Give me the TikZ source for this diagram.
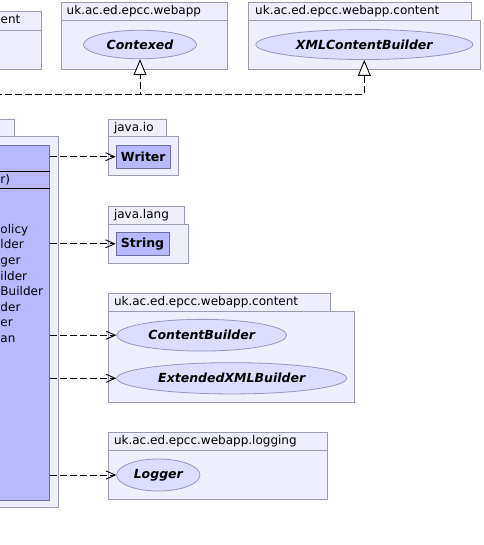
\documentclass[tikz,border=0pt]{standalone}
\usepackage{fontspec}
\setmainfont{DejaVu Sans}[ItalicFont={DejaVu Sans Oblique}, BoldFont={DejaVu Sans Bold}, BoldItalicFont={DejaVu Sans Bold Oblique}]
\usetikzlibrary{arrows.meta,shapes.geometric,positioning}
\definecolor{pkgfill}{RGB}{238,238,252}
\definecolor{pkgline}{RGB}{155,155,175}
\definecolor{clsfill}{RGB}{184,184,255}
\definecolor{clsline}{RGB}{110,110,165}
\definecolor{ifill}{RGB}{221,221,255}
\definecolor{iline}{RGB}{150,150,190}
\begin{document}
\begin{tikzpicture}
[x=1pt, y=-1pt,
% STYLES
% packages: body and name tab
pkg/.style={draw=pkgline, fill=pkgfill, line width=0.8pt},
pkgname/.style={anchor=west, inner sep=0pt, font=\fontsize{12}{14}\selectfont},
% classes and interfaces
cls/.style={rectangle, draw=clsline, fill=clsfill, line width=0.8pt, inner sep=0pt, font=\bfseries\fontsize{12.5}{14}\selectfont},
iface/.style={ellipse, draw=iline, fill=ifill, line width=0.8pt, inner sep=0pt, font=\bfseries\itshape\fontsize{12.5}{14}\selectfont},
% members of the class, at the left edge
fld/.style={anchor=west, inner sep=0pt, text height=8.7pt, text depth=2.3pt, font=\fontsize{12}{14}\selectfont},
% connectors
dep/.style={line width=0.9pt, dash pattern=on 7pt off 3pt, -{Straight Barb[length=9pt, width=8pt]}},
real/.style={line width=0.9pt, dash pattern=on 7pt off 3pt, -{Triangle[open, length=16pt, width=13pt, fill=white]}}]

\useasboundingbox (0,0) rectangle (483,545);
\clip (0,0) rectangle (483,545);

% Top packages
\draw[pkg] (-20,11) rectangle (41,69);
\draw[pkg] (-20,11) rectangle (41,30);
\node[fld] (entname) at (0.5,20.5) {ent};

\draw[pkg] (61,20) rectangle (227.5,69);
\draw[pkg] (61,2) rectangle (227.5,20);
\node[pkgname] (webappname) at (66.5,11) {uk.ac.ed.epcc.webapp};
\node[iface, minimum width=113pt, minimum height=28.5pt] (contexed) at (140,44.5) {Contexed};

\draw[pkg] (248.5,20) rectangle (480.5,69);
\draw[pkg] (248.5,2.5) rectangle (471,20);
\node[pkgname] (topcontentname) at (255,11.2) {uk.ac.ed.epcc.webapp.content};
\node[iface, minimum width=217pt, minimum height=30pt] (xmlbuilder) at (364.3,44.5) {XMLContentBuilder};

% Main class (cut at the left)
\draw[pkg] (-20,119.3) rectangle (14,136.5);
\draw[pkg] (-20,136.5) rectangle (58.3,507.3);
\node[cls, anchor=north east, minimum width=80pt, minimum height=355pt] (main) at (50,145) {};
\draw[line width=0.9pt] (-20,171) -- (49.6,171);
\draw[line width=0.9pt] (-20,188.3) -- (49.6,188.3);
\node[fld] (ctor) at (0.3,180) {r)};
\foreach \t [count=\i] in {olicy, lder, ger, ilder, Builder, der, er, an}
  \node[fld] (fld\i) at (0.3,230+15.6*\i-15.6) {\t};

% Used packages
\draw[pkg] (108.3,119.3) rectangle (166.7,136);
\draw[pkg] (108.3,136) rectangle (178.3,175.7);
\node[pkgname] (ioname) at (113.8,127.7) {java.io};
\node[cls, minimum width=54.5pt, minimum height=23.3pt] (writer) at (143.3,156.7) {Writer};

\draw[pkg] (108.3,206) rectangle (184.3,224);
\draw[pkg] (108.3,224) rectangle (188.3,263.3);
\node[pkgname] (langname) at (113.8,215) {java.lang};
\node[cls, minimum width=53pt, minimum height=23.3pt] (string) at (142.5,243.8) {String};

\draw[pkg] (108.3,293.3) rectangle (330.7,311.7);
\draw[pkg] (108.3,311.7) rectangle (354,402.3);
\node[pkgname] (contentname) at (113.8,302.5) {uk.ac.ed.epcc.webapp.content};
\node[iface, minimum width=170pt, minimum height=31.7pt] (cbuilder) at (201.7,335.2) {ContentBuilder};
\node[iface, minimum width=230pt, minimum height=31.3pt] (exbuilder) at (231.7,378.3) {ExtendedXMLBuilder};

\draw[pkg] (108.3,432.3) rectangle (327.7,450);
\draw[pkg] (108.3,450) rectangle (327.7,499);
\node[pkgname] (loggingname) at (113.8,441.2) {uk.ac.ed.epcc.webapp.logging};
\node[iface, minimum width=83.3pt, minimum height=32pt] (logger) at (158.3,475) {Logger};

% Draw dependencies
\draw[dep] (main.east |- writer) -- (writer);
\draw[dep] (main.east |- string) -- (string);
\draw[dep] (main.east |- cbuilder) -- (cbuilder);
\draw[dep] (main.east |- exbuilder) -- (exbuilder);
\draw[dep] (main.east |- logger) -- (logger);

% Draw realizations
\coordinate (implsrc) at (-5,94);
\draw[real] (implsrc) -| (contexed.south);
\draw[real] (implsrc) -| (xmlbuilder.south);

\end{tikzpicture}
\end{document}
